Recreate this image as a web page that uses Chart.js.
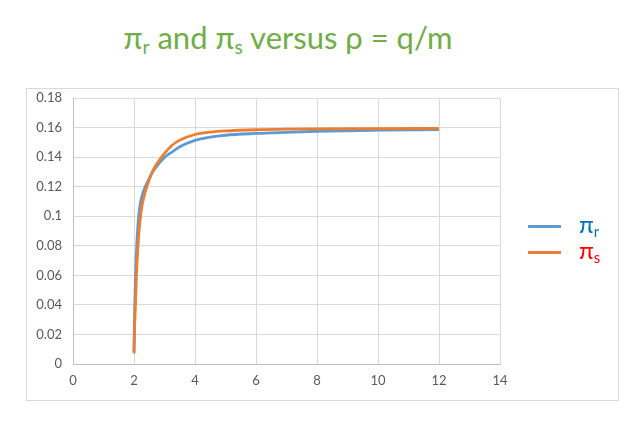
<!DOCTYPE html>
<html>
<head>
<meta charset="utf-8">
<script src="https://cdn.jsdelivr.net/npm/chart.js@4/dist/chart.umd.min.js"></script>
<style>
  html, body { margin: 0; padding: 0; background: #fff; }
  #wrap { position: relative; width: 643px; height: 429px; }
  #frame { position: absolute; left: 26px; top: 88px; width: 591px; height: 311px; border: 1px solid #D9D9D9; }
  #title { position: absolute; left: 0; top: 18px; width: 576px; text-align: center;
           font-family: Lato, "Open Sans", sans-serif; font-size: 31px; color: #70AD47; white-space: nowrap; }
  #title sub { font-size: 62%; vertical-align: -0.25em; }
  #legend { position: absolute; left: 528px; top: 212px; font-family: Lato, sans-serif; }
  .li { position: relative; height: 26px; width: 90px; }
  .li .sw { position: absolute; left: 0; top: 13px; width: 33px; height: 3px; }
  .li .tx { position: absolute; left: 51px; top: -2px; font-size: 24px; line-height: 28px; }
  .li .tx sub { font-size: 62%; vertical-align: -0.3em; }
  canvas { position: absolute; left: 0; top: 0; }
</style>
</head>
<body>
<div id="wrap">
  <div id="frame"></div>
  <div id="title">π<sub>r</sub> and π<sub>s</sub> versus ρ = q/m</div>
  <canvas id="c" width="643" height="429"></canvas>
  <div id="legend"></div>
</div>
<script>
// rho values and series readings
const rhoR = [2.0, 2.02, 2.05, 2.09, 2.12, 2.15, 2.19, 2.24, 2.34, 2.45, 2.6, 2.8, 3.0, 3.25, 3.5, 4.0, 4.5, 5.0, 6.0, 7.0, 8.0, 10.0, 12.0];
const piR  = [0.008, 0.035, 0.060, 0.080, 0.091, 0.099, 0.1065, 0.112, 0.1185, 0.1235, 0.1295, 0.1352, 0.1398, 0.1435, 0.1470, 0.1513, 0.1535, 0.1548, 0.1560, 0.1568, 0.1575, 0.1582, 0.1586];
const rhoS = [2.0, 2.02, 2.05, 2.08, 2.13, 2.17, 2.21, 2.25, 2.3, 2.42, 2.6, 2.8, 3.0, 3.25, 3.5, 4.0, 4.5, 5.0, 6.0, 7.0, 8.0, 10.0, 12.0];
const piS  = [0.0072, 0.025, 0.042, 0.060, 0.080, 0.091, 0.099, 0.1055, 0.111, 0.120, 0.130, 0.137, 0.1425, 0.148, 0.1515, 0.1553, 0.1569, 0.1577, 0.1585, 0.1589, 0.1591, 0.1593, 0.1594];
const seriesNames = ['πr', 'πs'];
const xTicks = [0, 2, 4, 6, 8, 10, 12, 14];
const yTicks = [0, 0.02, 0.04, 0.06, 0.08, 0.1, 0.12, 0.14, 0.16, 0.18];

const toPts = (xs, ys) => xs.map((x, i) => ({ x: x, y: ys[i] }));

const chart = new Chart(document.getElementById('c'), {
  type: 'scatter',
  data: {
    datasets: [
      { label: seriesNames[0], data: toPts(rhoR, piR), borderColor: '#5B9BD5', backgroundColor: '#5B9BD5',
        showLine: true, pointRadius: 0, borderWidth: 2.8, cubicInterpolationMode: 'monotone', order: 1,
        legendColor: '#0070C0' },
      { label: seriesNames[1], data: toPts(rhoS, piS), borderColor: '#ED7D31', backgroundColor: '#ED7D31',
        showLine: true, pointRadius: 0, borderWidth: 2.8, cubicInterpolationMode: 'monotone', order: 0,
        legendColor: '#FF0000' }
    ]
  },
  options: {
    responsive: false,
    animation: false,
    layout: { padding: { left: 26, top: 98, right: 143, bottom: 35 } },
    plugins: { legend: { display: false }, title: { display: false }, tooltip: { enabled: false } },
    scales: {
      x: {
        type: 'linear', min: 0, max: 14,
        afterBuildTicks: s => { s.ticks = xTicks.map(v => ({ value: v })); },
        afterFit: s => { s.height = 30; },
        grid: { color: '#D9D9D9', lineWidth: 1, drawTicks: false },
        border: { color: '#BFBFBF', width: 1 },
        ticks: { color: '#595959', font: { family: 'Lato', size: 13 }, padding: 9,
                 callback: v => String(v) }
      },
      y: {
        type: 'linear', min: 0, max: 0.18,
        afterBuildTicks: s => { s.ticks = yTicks.map(v => ({ value: v })); },
        afterFit: s => { s.width = 47; },
        grid: { color: '#D9D9D9', lineWidth: 1, drawTicks: false },
        border: { color: '#BFBFBF', width: 1 },
        ticks: { color: '#595959', font: { family: 'Lato', size: 13 }, padding: 11,
                 callback: v => String(+(+v).toFixed(2)) }
      }
    }
  }
});

// HTML legend built from chart datasets (for subscripts)
const leg = document.getElementById('legend');
chart.data.datasets.forEach(ds => {
  const d = document.createElement('div'); d.className = 'li';
  const sw = document.createElement('div'); sw.className = 'sw'; sw.style.background = ds.borderColor;
  const tx = document.createElement('div'); tx.className = 'tx'; tx.style.color = ds.legendColor;
  tx.innerHTML = ds.label.charAt(0) + '<sub>' + ds.label.slice(1) + '</sub>';
  d.appendChild(sw); d.appendChild(tx); leg.appendChild(d);
});
</script>
</body>
</html>
